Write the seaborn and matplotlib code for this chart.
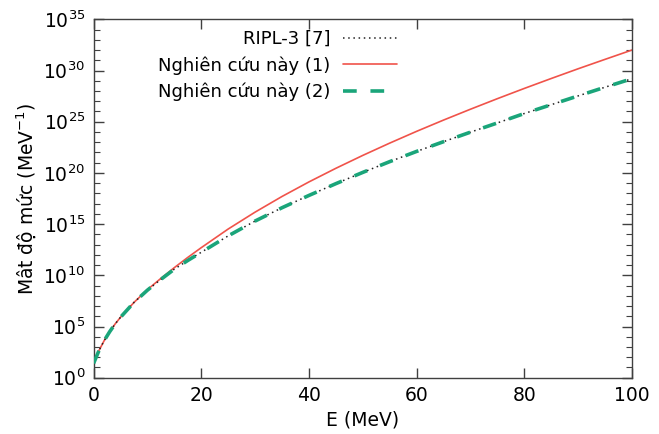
import numpy as np
import pandas as pd
import matplotlib
matplotlib.use("Agg")
import matplotlib.pyplot as plt
import matplotlib.ticker as mticker
import seaborn as sns

# Energies (MeV) and log10 of level density
energy = [0, 1, 2, 3, 4, 5, 7.5, 10, 12.5, 15, 17.5, 20, 25, 30, 35, 40, 45, 50,
          55, 60, 65, 70, 75, 80, 85, 90, 95, 100]
log_rho_1 = [1.4, 2.65, 3.65, 4.5, 5.25, 5.9, 7.35, 8.6, 9.7, 10.75, 11.75, 12.7,
             14.52, 16.17, 17.70, 19.12, 20.45, 21.71, 22.91, 24.06, 25.16, 26.22,
             27.25, 28.25, 29.22, 30.17, 31.09, 32.0]
log_rho_2 = [1.4, 2.65, 3.65, 4.5, 5.25, 5.9, 7.35, 8.55, 9.6, 10.6, 11.45, 12.25,
             13.85, 15.3, 16.6, 17.8, 18.95, 20.05, 21.1, 22.1, 23.05, 23.98,
             24.88, 25.8, 26.66, 27.52, 28.37, 29.2]
log_ripl = [1.4, 2.65, 3.65, 4.5, 5.25, 5.9, 7.35, 8.55, 9.6, 10.6, 11.45, 12.25,
            13.85, 15.3, 16.6, 17.8, 18.95, 20.05, 21.1, 22.1, 23.05, 23.98,
            24.88, 25.8, 26.66, 27.52, 28.37, 29.2]

labels = ["RIPL-3 [7]", "Nghiên cứu này (1)", "Nghiên cứu này (2)"]

df = pd.DataFrame({
    "E": energy,
    "ripl": np.power(10.0, log_ripl),
    "nc1": np.power(10.0, log_rho_1),
    "nc2": np.power(10.0, log_rho_2),
})

sns.set_theme(style="ticks")
plt.rcParams["font.family"] = ["DejaVu Sans"]
plt.rcParams["mathtext.fontset"] = "dejavusans"
plt.rcParams["text.color"] = "black"
plt.rcParams["axes.labelcolor"] = "black"
plt.rcParams["xtick.labelcolor"] = "black"
plt.rcParams["ytick.labelcolor"] = "black"

fig = plt.figure(figsize=(6.59, 4.34), dpi=100)
ax = fig.add_axes([0.142, 0.1297, 0.817, 0.8258])

sns.lineplot(data=df, x="E", y="nc1", ax=ax, color="#f0534a", lw=1.2,
             label=labels[1], zorder=2)
sns.lineplot(data=df, x="E", y="ripl", ax=ax, color="#222222", lw=1.1,
             label=labels[0], zorder=3)
sns.lineplot(data=df, x="E", y="nc2", ax=ax, color="#1aa57a", lw=2.6,
             label=labels[2], zorder=4)
lines = ax.get_lines()
lines[1].set_dashes([1, 2.4])
lines[2].set_dashes([3.8, 3.8])

ax.set_yscale("log")
ax.set_xlim(0, 100)
ax.set_ylim(1e0, 1e35)
ax.xaxis.set_major_locator(mticker.MultipleLocator(20))
ax.xaxis.set_minor_locator(mticker.NullLocator())
ax.yaxis.set_major_locator(mticker.FixedLocator([10.0 ** k for k in range(0, 36, 5)]))
ax.yaxis.set_minor_locator(mticker.FixedLocator([10.0 ** k for k in range(0, 36)]))
ax.yaxis.set_major_formatter(mticker.FuncFormatter(lambda v, p: r"$10^{%d}$" % round(np.log10(v))))
ax.yaxis.set_minor_formatter(mticker.NullFormatter())

ax.tick_params(which="both", direction="in", top=True, right=True, color="#404040")
ax.tick_params(which="major", length=7, width=1, labelsize=13.5, pad=6)
ax.tick_params(which="minor", length=4, width=0.8)
for s in ax.spines.values():
    s.set_color("#404040")
    s.set_linewidth(1.0)

ax.set_xlabel("E (MeV)", fontsize=13.5, labelpad=4)
ax.set_ylabel(r"Mât độ mức (MeV$^{-1}$)", fontsize=13.5, labelpad=4)

h, l = ax.get_legend_handles_labels()
order = [l.index(t) for t in labels]
ax.legend([h[i] for i in order], [l[i] for i in order], loc="upper left",
          bbox_to_anchor=(0.1, 1.0), frameon=False, markerfirst=False,
          fontsize=13, handlelength=3.0, handletextpad=0.7, labelspacing=0.45,
          borderaxespad=0.2)

fig.savefig("out.png", dpi=100, facecolor="white")
